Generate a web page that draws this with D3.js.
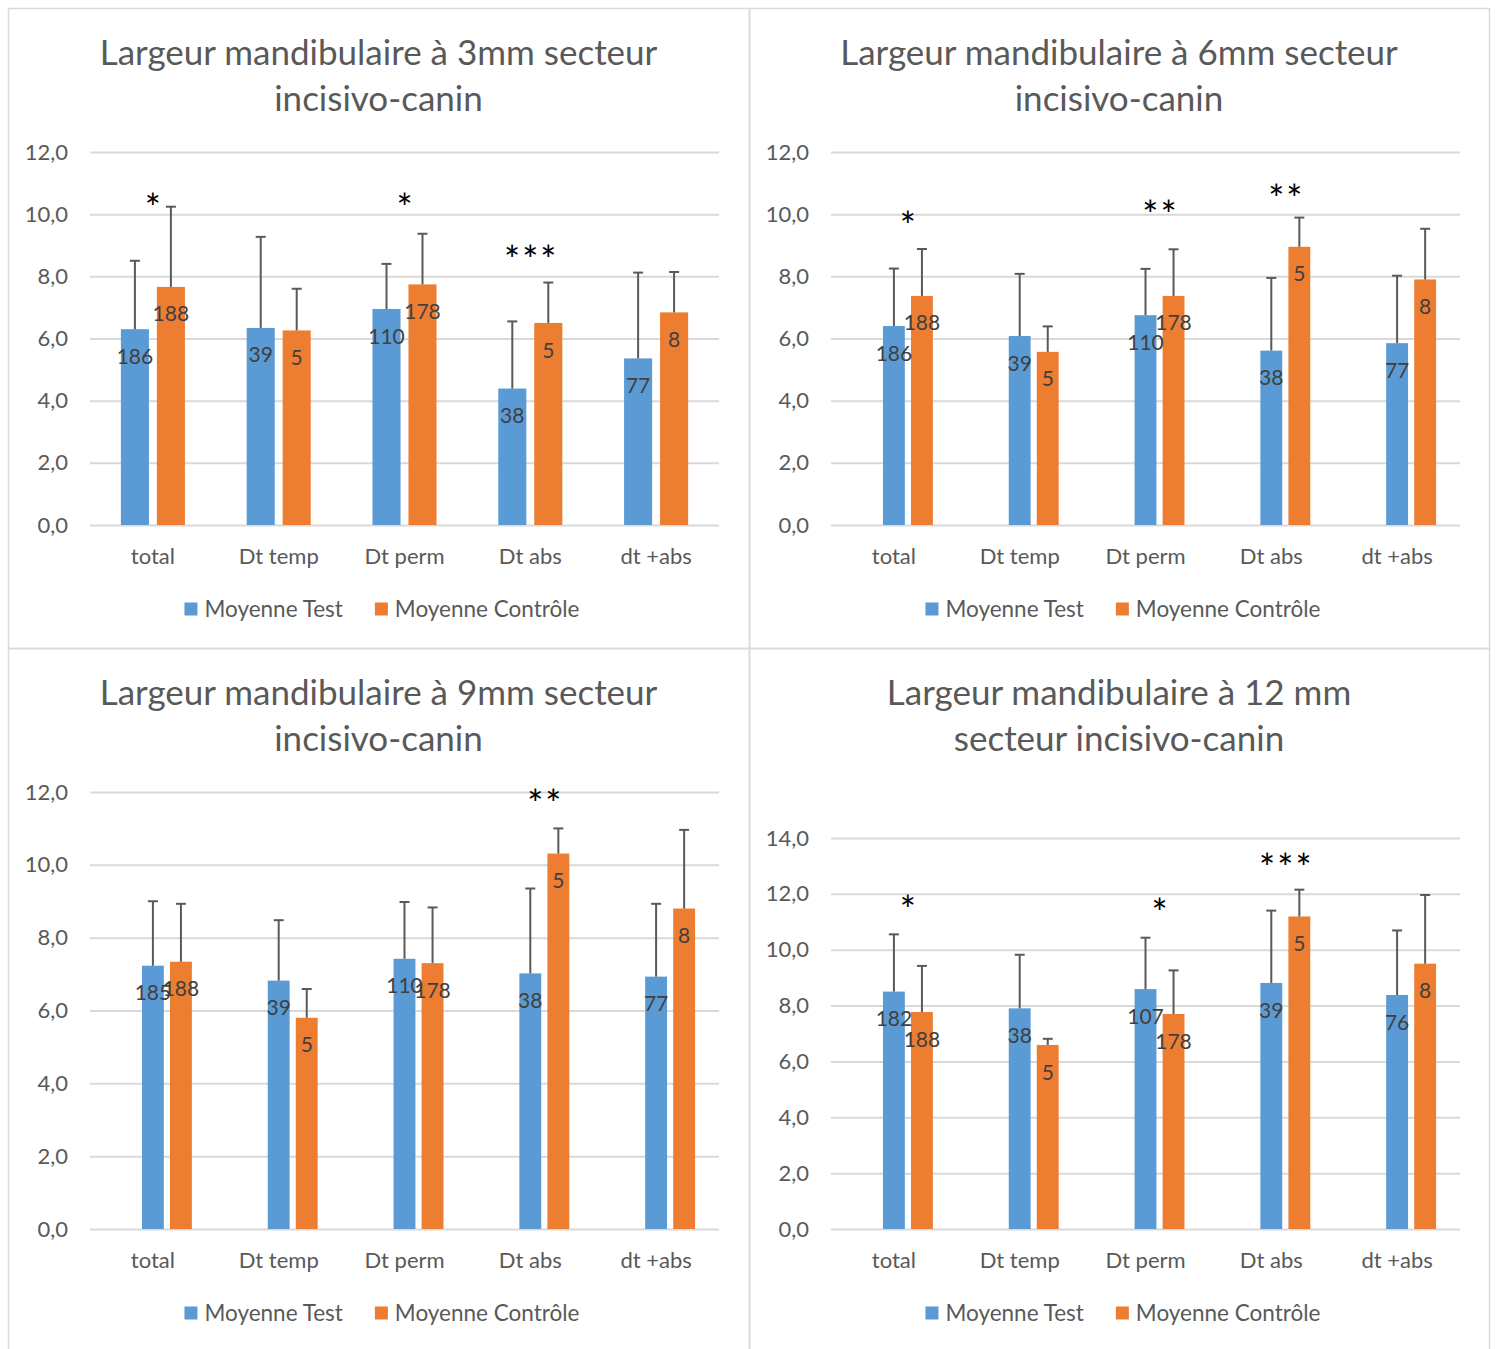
<!DOCTYPE html>
<html><head><meta charset="utf-8">
<script src="https://cdn.jsdelivr.net/npm/d3@7"></script>
<style>
html,body{margin:0;padding:0;background:#fff;}
svg{display:block;font-family:Lato,"Open Sans",sans-serif;}
</style></head>
<body>
<svg id="chart" width="1495" height="1349"></svg>
<script>
// ---------- DATA ----------
const categories = ["total", "Dt temp", "Dt perm", "Dt abs", "dt +abs"];
const seriesNames = ["Moyenne Test", "Moyenne Contrôle"];
const yTicks34 = [0, 2, 4, 6, 8, 10, 12];
const yTicks12 = [0, 2, 4, 6, 8, 10, 12, 14];

// 3 mm
const test3 = [6.30, 6.34, 6.95, 4.39, 5.36];
const testSd3 = [2.20, 2.93, 1.45, 2.16, 2.76];
const ctrl3 = [7.66, 6.26, 7.74, 6.50, 6.84];
const ctrlSd3 = [2.58, 1.34, 1.63, 1.30, 1.30];
const nTest3 = [186, 39, 110, 38, 77];
const nCtrl3 = [188, 5, 178, 5, 8];
const sig3 = ["*", "", "*", "***", ""];
const sigAt3 = [10.43, null, 10.43, 8.76, null];

// 6 mm
const test6 = [6.40, 6.08, 6.75, 5.61, 5.85];
const testSd6 = [1.85, 2.00, 1.49, 2.34, 2.17];
const ctrl6 = [7.37, 5.57, 7.37, 8.95, 7.90];
const ctrlSd6 = [1.51, 0.82, 1.50, 0.94, 1.63];
const nTest6 = [186, 39, 110, 38, 77];
const nCtrl6 = [188, 5, 178, 5, 8];
const sig6 = ["*", "", "**", "**", ""];
const sigAt6 = [9.85, null, 10.21, 10.70, null];

// 9 mm
const test9 = [7.23, 6.82, 7.42, 7.02, 6.93];
const testSd9 = [1.77, 1.66, 1.56, 2.33, 2.00];
const ctrl9 = [7.34, 5.80, 7.30, 10.31, 8.80];
const ctrlSd9 = [1.59, 0.79, 1.53, 0.69, 2.16];
const nTest9 = [185, 39, 110, 38, 77];
const nCtrl9 = [188, 5, 178, 5, 8];
const sig9 = ["", "", "", "**", ""];
const sigAt9 = [null, null, null, 11.85, null];

// 12 mm
const test12 = [8.50, 7.90, 8.59, 8.81, 8.38];
const testSd12 = [2.05, 1.92, 1.84, 2.59, 2.31];
const ctrl12 = [7.77, 6.59, 7.70, 11.19, 9.50];
const ctrlSd12 = [1.65, 0.22, 1.56, 0.96, 2.46];
const nTest12 = [182, 38, 107, 39, 76];
const nCtrl12 = [188, 5, 178, 5, 8];
const sig12 = ["*", "", "*", "***", ""];
const sigAt12 = [11.67, null, 11.58, 13.16, null];

// ---------- STYLE / LAYOUT ----------
const BLUE = "#5B9BD5", ORANGE = "#ED7D31", GRID = "#D9D9D9", TXT = "#595959", LBL = "#404040";

const panels = [
  {x: 8, y: 8, w: 741, h: 640, title: ["Largeur mandibulaire à 3mm secteur", "incisivo-canin"],
   ticks: yTicks34, yMax: 12, top: 144, bottom: 517, hidden: false,
   test: test3, testSd: testSd3, ctrl: ctrl3, ctrlSd: ctrlSd3, nT: nTest3, nC: nCtrl3, sig: sig3, sigAt: sigAt3},
  {x: 749, y: 8, w: 740, h: 640, title: ["Largeur mandibulaire à 6mm secteur", "incisivo-canin"],
   ticks: yTicks34, yMax: 12, top: 144, bottom: 517, hidden: true,
   test: test6, testSd: testSd6, ctrl: ctrl6, ctrlSd: ctrlSd6, nT: nTest6, nC: nCtrl6, sig: sig6, sigAt: sigAt6},
  {x: 8, y: 648, w: 741, h: 710, title: ["Largeur mandibulaire à 9mm secteur", "incisivo-canin"],
   ticks: yTicks34, yMax: 12, top: 144, bottom: 581, hidden: true,
   test: test9, testSd: testSd9, ctrl: ctrl9, ctrlSd: ctrlSd9, nT: nTest9, nC: nCtrl9, sig: sig9, sigAt: sigAt9},
  {x: 749, y: 648, w: 740, h: 710, title: ["Largeur mandibulaire à 12 mm", "secteur incisivo-canin"],
   ticks: yTicks12, yMax: 14, top: 190, bottom: 581, hidden: true,
   test: test12, testSd: testSd12, ctrl: ctrl12, ctrlSd: ctrlSd12, nT: nTest12, nC: nCtrl12, sig: sig12, sigAt: sigAt12}
];

const svg = d3.select("#chart");

// panel borders
panels.forEach(p => {
  svg.append("rect").attr("x", p.x + 0.5).attr("y", p.y + 0.5).attr("width", p.w).attr("height", p.h)
    .attr("fill", "none").attr("stroke", GRID).attr("stroke-width", 1.5);
});

panels.forEach(p => {
  const g = svg.append("g").attr("transform", `translate(${p.x},${p.y})`);
  const left = 82, right = 711;

  // title
  g.selectAll("text.title").data(p.title).join("text")
    .attr("x", p.w / 2).attr("y", (d, i) => 45 + i * 46).attr("dy", "0.35em")
    .attr("text-anchor", "middle").attr("fill", TXT).attr("font-size", 35).text(d => d);

  const y = d3.scaleLinear().domain([0, p.yMax]).range([p.bottom, p.top]);
  const x0 = d3.scaleBand().domain(categories).range([left, right]);
  const keys = p.hidden ? ["_", "test", "ctrl"] : ["test", "ctrl"];
  const x1 = d3.scaleBand().domain(keys).range([0, x0.bandwidth()])
    .paddingInner(0.22).paddingOuter(p.hidden ? 0.853 : 0.858);

  // gridlines + y axis
  const yAxis = d3.axisLeft(y).tickValues(p.ticks).tickSize(-(right - left)).tickPadding(22)
    .tickFormat(d => d3.format(".1f")(d).replace(".", ","));
  const ya = g.append("g").attr("transform", `translate(${left},0)`).call(yAxis);
  ya.select(".domain").remove();
  ya.selectAll(".tick line").attr("stroke", GRID).attr("stroke-width", 2);
  ya.selectAll(".tick text").attr("fill", TXT).attr("font-size", 22).attr("font-family", "Lato");

  // x axis labels
  const xAxis = d3.axisBottom(x0).tickSize(0).tickPadding(23);
  const xa = g.append("g").attr("transform", `translate(0,${p.bottom})`).call(xAxis);
  xa.select(".domain").remove();
  xa.selectAll(".tick text").attr("fill", TXT).attr("font-size", 22).attr("font-family", "Lato");

  const rows = categories.map((c, i) => ({
    cat: c,
    bars: [
      {key: "test", v: p.test[i], sd: p.testSd[i], n: p.nT[i], color: BLUE},
      {key: "ctrl", v: p.ctrl[i], sd: p.ctrlSd[i], n: p.nC[i], color: ORANGE}
    ],
    sig: p.sig[i], sigAt: p.sigAt[i]
  }));

  const cg = g.selectAll("g.cat").data(rows).join("g").attr("class", "cat")
    .attr("transform", d => `translate(${x0(d.cat)},0)`);

  const bw = x1.bandwidth();
  cg.selectAll("rect.bar").data(d => d.bars).join("rect").attr("class", "bar")
    .attr("x", d => x1(d.key)).attr("width", bw)
    .attr("y", d => y(d.v)).attr("height", d => y(0) - y(d.v))
    .attr("fill", d => d.color);

  // error bars
  const eb = cg.selectAll("g.err").data(d => d.bars).join("g").attr("class", "err")
    .attr("stroke", "#595959").attr("stroke-width", 2);
  eb.append("line").attr("x1", d => x1(d.key) + bw / 2).attr("x2", d => x1(d.key) + bw / 2)
    .attr("y1", d => y(d.v)).attr("y2", d => y(d.v + d.sd));
  eb.append("line").attr("x1", d => x1(d.key) + bw / 2 - 5).attr("x2", d => x1(d.key) + bw / 2 + 5)
    .attr("y1", d => y(d.v + d.sd)).attr("y2", d => y(d.v + d.sd));

  // data labels (n)
  cg.selectAll("text.n").data(d => d.bars).join("text").attr("class", "n")
    .attr("x", d => x1(d.key) + bw / 2).attr("y", d => y(d.v) + 27).attr("dy", "0.36em")
    .attr("text-anchor", "middle").attr("fill", LBL).attr("font-size", 21).text(d => d.n);

  // significance stars
  cg.filter(d => d.sig).append("text")
    .attr("x", x1("test") + (x1("ctrl") + bw - x1("test")) / 2 + 1)
    .attr("y", d => y(d.sigAt) + 21)
    .attr("text-anchor", "middle").attr("fill", "#000").attr("font-size", 38)
    .attr("letter-spacing", 2)
    .text(d => d.sig);

  // legend
  const items = [{name: seriesNames[0], c: BLUE}, {name: seriesNames[1], c: ORANGE}];
  const lg = g.append("g");
  let xpos = 0;
  const its = lg.selectAll("g").data(items).join("g");
  its.append("rect").attr("x", 0).attr("y", -6.5).attr("width", 13).attr("height", 13).attr("fill", d => d.c);
  its.append("text").attr("x", 20).attr("dy", "0.35em").attr("fill", TXT).attr("font-size", 22.5).text(d => d.name);
  its.each(function () {
    const w = this.getBBox().width;
    d3.select(this).attr("transform", `translate(${xpos},0)`);
    xpos += w + 32;
  });
  const total = xpos - 32;
  lg.attr("transform", `translate(${374 - total / 2},${p.bottom + 84})`);
});
</script>
</body></html>
